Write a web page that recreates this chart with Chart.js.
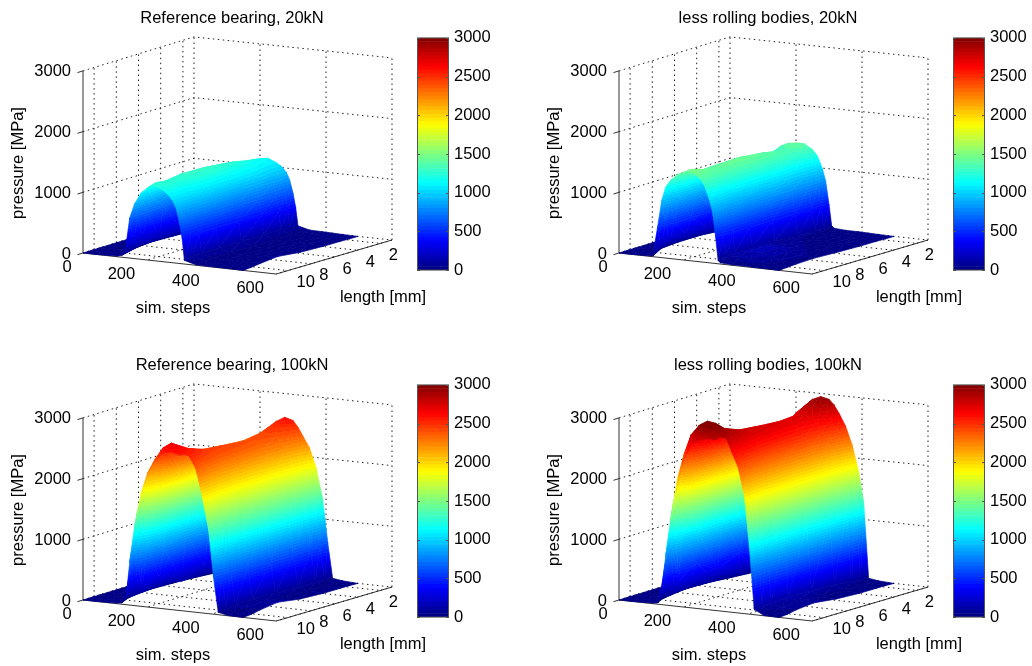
<!DOCTYPE html>
<html lang="en">

<head>
    <meta charset="UTF-8">
    <title>Bearing pressure</title>
    <script src="https://cdn.jsdelivr.net/npm/chart.js"></script>
    <style>
        body {
            margin: 0;
            background: #fff;
        }

        /* The original figure is a slightly soft bitmap */
        #page {
            position: relative;
            width: 1032px;
            height: 666px;
            overflow: hidden;
            filter: blur(0.35px);
        }

        canvas {
            position: absolute;
        }
    </style>
</head>

<body>
    <div id="page"></div>
    <script>
        // Mesh axes
        const simSteps20kN = [0, 40, 80, 105, 120, 133, 145, 160, 180, 200, 225, 250, 265, 280, 290, 300, 308, 315, 350, 390, 420, 450, 497];
        const simSteps100kN = [0, 40, 80, 105, 120, 133, 145, 160, 180, 200, 225, 250, 275, 300, 315, 330, 350, 370, 390, 405, 420, 450, 497];
        const lengths = [1, 1.7, 2.5, 4, 6, 8, 9.5, 10.3, 11];

        // Tick labels
        const simTicks = [0, 200, 400, 600];
        const lengthTicks = [2, 4, 6, 8, 10];
        const pressureTicks = [0, 1000, 2000, 3000];
        const colorbarMax = 3000;

        // Pressure [MPa], one row per length, one column per sim step
        const reference20kN = [
            [0, 0, 5, 10, 30, 170, 600, 830, 1000, 1100, 1130, 1070, 1020, 930, 810, 600, 370, 70, 20, 15, 10, 5, 0],
            [0, 0, 5, 15, 50, 170, 620, 850, 1030, 1130, 1160, 1100, 1040, 950, 840, 610, 380, 80, 25, 15, 10, 5, 0],
            [0, 0, 10, 20, 80, 180, 630, 860, 1050, 1140, 1180, 1120, 1060, 970, 850, 630, 390, 80, 25, 20, 15, 10, 5],
            [0, 5, 15, 40, 110, 190, 660, 910, 1100, 1200, 1240, 1180, 1120, 1020, 890, 660, 410, 90, 30, 20, 15, 10, 5],
            [0, 10, 25, 60, 140, 190, 680, 940, 1140, 1240, 1280, 1220, 1150, 1050, 920, 680, 420, 90, 35, 25, 20, 20, 20],
            [0, 10, 30, 70, 130, 190, 690, 940, 1150, 1250, 1290, 1230, 1160, 1060, 930, 680, 430, 90, 40, 30, 30, 35, 60],
            [0, 5, 20, 50, 90, 190, 670, 920, 1110, 1210, 1250, 1190, 1120, 1030, 900, 660, 410, 90, 30, 25, 25, 30, 30],
            [0, 5, 10, 25, 60, 190, 680, 930, 1130, 1230, 1270, 1210, 1140, 1040, 910, 670, 420, 90, 25, 20, 15, 15, 10],
            [0, 0, 5, 10, 30, 180, 660, 900, 1090, 1190, 1230, 1170, 1110, 1010, 890, 650, 410, 60, 10, 5, 5, 5, 0]
        ];
        const lessBodies20kN = [
            [0, 0, 5, 20, 470, 890, 1100, 1210, 1300, 1350, 1370, 1290, 1190, 990, 790, 410, 70, 30, 15, 15, 10, 5, 0],
            [0, 0, 5, 30, 480, 920, 1140, 1260, 1350, 1400, 1420, 1340, 1240, 1020, 820, 430, 70, 30, 20, 15, 10, 5, 0],
            [0, 0, 10, 50, 460, 870, 1070, 1190, 1270, 1320, 1340, 1270, 1170, 960, 780, 400, 70, 40, 20, 20, 15, 10, 5],
            [0, 5, 30, 170, 470, 900, 1110, 1230, 1320, 1370, 1390, 1310, 1210, 1000, 810, 420, 70, 50, 30, 25, 20, 15, 5],
            [0, 10, 60, 200, 490, 930, 1140, 1270, 1360, 1410, 1430, 1350, 1240, 1030, 830, 430, 90, 80, 70, 50, 35, 30, 15],
            [0, 10, 60, 210, 480, 920, 1140, 1260, 1350, 1400, 1420, 1340, 1240, 1020, 820, 430, 110, 120, 150, 140, 100, 60, 30],
            [0, 5, 40, 180, 480, 920, 1130, 1250, 1340, 1390, 1410, 1330, 1230, 1020, 820, 420, 100, 110, 150, 140, 90, 50, 20],
            [0, 5, 20, 90, 500, 960, 1180, 1300, 1400, 1450, 1470, 1390, 1280, 1060, 850, 440, 90, 80, 100, 90, 50, 30, 10],
            [0, 0, 5, 10, 500, 950, 1170, 1290, 1390, 1440, 1460, 1380, 1270, 1050, 850, 440, 50, 20, 10, 10, 5, 5, 0]
        ];
        const reference100kN = [
            [0, 0, 5, 10, 30, 120, 900, 1350, 1750, 2020, 2380, 2530, 2610, 2570, 2470, 2330, 2150, 1830, 1330, 630, 40, 15, 0],
            [0, 0, 5, 15, 50, 200, 940, 1440, 1850, 2130, 2350, 2470, 2500, 2450, 2380, 2270, 2060, 1750, 1270, 600, 50, 20, 5],
            [0, 0, 10, 20, 70, 90, 860, 1400, 1810, 2070, 2290, 2410, 2440, 2390, 2320, 2210, 2010, 1710, 1240, 590, 60, 20, 5],
            [0, 5, 15, 40, 110, 240, 760, 1380, 1780, 2040, 2260, 2370, 2400, 2350, 2280, 2170, 1970, 1680, 1220, 580, 60, 25, 5],
            [0, 10, 25, 60, 150, 110, 910, 1400, 1800, 2070, 2280, 2400, 2430, 2380, 2310, 2200, 2000, 1700, 1280, 580, 70, 30, 25],
            [0, 10, 30, 70, 140, 260, 780, 1420, 1830, 2100, 2320, 2440, 2470, 2420, 2350, 2240, 2030, 1730, 1300, 600, 90, 60, 80],
            [0, 5, 20, 50, 100, 130, 960, 1480, 1900, 2180, 2420, 2540, 2570, 2520, 2440, 2330, 2110, 1800, 1320, 620, 70, 50, 40],
            [0, 5, 10, 25, 250, 1000, 1500, 1800, 2130, 2400, 2600, 2690, 2660, 2550, 2500, 2420, 2240, 1900, 1350, 620, 50, 20, 10],
            [0, 0, 5, 10, 20, 80, 700, 1300, 1850, 2200, 2440, 2570, 2600, 2560, 2590, 2560, 2370, 1930, 1380, 620, 40, 5, 0]
        ];
        const lessBodies100kN = [
            [0, 0, 5, 10, 30, 590, 1240, 1650, 2050, 2420, 2760, 2890, 2950, 2920, 2840, 2710, 2510, 2210, 1780, 1290, 40, 15, 0],
            [0, 0, 5, 15, 50, 570, 1200, 1600, 2110, 2450, 2690, 2820, 2850, 2800, 2730, 2620, 2420, 2130, 1720, 1250, 50, 20, 5],
            [0, 0, 10, 20, 70, 350, 1150, 1530, 2030, 2360, 2590, 2710, 2740, 2690, 2620, 2520, 2330, 2050, 1650, 1200, 60, 20, 5],
            [0, 5, 15, 40, 120, 480, 950, 1520, 2010, 2340, 2570, 2690, 2720, 2670, 2600, 2500, 2310, 2040, 1640, 1190, 100, 25, 5],
            [0, 10, 25, 70, 160, 300, 1160, 1540, 2040, 2370, 2600, 2720, 2750, 2700, 2630, 2530, 2340, 2060, 1660, 1220, 120, 30, 25],
            [0, 10, 30, 80, 170, 520, 1000, 1560, 2060, 2400, 2640, 2760, 2790, 2740, 2670, 2570, 2370, 2090, 1690, 1200, 120, 80, 70],
            [0, 5, 20, 50, 110, 300, 1220, 1620, 2150, 2490, 2740, 2870, 2900, 2850, 2780, 2670, 2470, 2170, 1750, 1180, 110, 60, 40],
            [0, 5, 10, 25, 300, 1100, 1650, 2100, 2500, 2800, 2970, 3050, 3030, 2920, 2800, 2700, 2520, 2260, 1840, 1150, 100, 20, 10],
            [0, 0, 5, 10, 20, 300, 800, 1400, 2000, 2400, 2700, 2780, 2820, 2810, 2870, 2900, 2640, 2400, 1920, 1100, 90, 5, 0]
        ];

        const panelTitles = ['Reference bearing, 20kN', 'less rolling bodies, 20kN', 'Reference bearing, 100kN', 'less rolling bodies, 100kN'];
        const panelSurfaces = [reference20kN, lessBodies20kN, reference100kN, lessBodies100kN];
        const panelSimSteps = [simSteps20kN, simSteps20kN, simSteps100kN, simSteps100kN];

        const FONT = '16.5px "Liberation Sans", Arial, sans-serif';
        const TEXT_COLOR = '#000';
        const JET_LEVELS = 64;
        const PLOT_W = 440;
        const PLOT_H = 319;

        // Fixed 3D view of the axes box, same for all four panels
        function project(sim, length, pressure) {
            const depth = length - 1;
            return {
                x: 194 + sim * (0.33 - 0.0008 * depth) - 11.1 * depth,
                y: 219 + 0.035 * sim + 3.4 * depth - pressure * 0.0607,
                pressure: pressure,
                sim: sim,
                length: length
            };
        }

        function jet(level) {
            const t = (level + 0.5) / JET_LEVELS;
            const ramp = v => Math.max(0, Math.min(1, 1.5 - Math.abs(4 * t - v)));
            const r = Math.round(255 * ramp(3));
            const g = Math.round(255 * ramp(2));
            const b = Math.round(255 * ramp(1));
            return `rgb(${r},${g},${b})`;
        }

        function levelOf(pressure) {
            return Math.max(0, Math.min(JET_LEVELS - 1, Math.floor(pressure / colorbarMax * JET_LEVELS)));
        }

        // Banded gradient across one triangle: colour follows the pressure exactly
        function triangleStyle(ctx, a, b, c) {
            const det = (b.x - a.x) * (c.y - a.y) - (c.x - a.x) * (b.y - a.y);
            const lo = Math.min(a.p, b.p, c.p);
            const hi = Math.max(a.p, b.p, c.p);
            if (Math.abs(det) < 0.01 || levelOf(lo) === levelOf(hi)) {
                return jet(levelOf((lo + hi) / 2));
            }
            const gx = ((b.p - a.p) * (c.y - a.y) - (c.p - a.p) * (b.y - a.y)) / det;
            const gy = ((c.p - a.p) * (b.x - a.x) - (b.p - a.p) * (c.x - a.x)) / det;
            const g2 = gx * gx + gy * gy;
            const low = [a, b, c].find(v => v.p === lo);
            const span = hi - lo;
            const grad = ctx.createLinearGradient(low.x, low.y, low.x + gx * span / g2, low.y + gy * span / g2);
            const size = colorbarMax / JET_LEVELS;
            for (let level = levelOf(lo); level <= levelOf(hi); level++) {
                const from = Math.max(0, (level * size - lo) / span);
                const to = Math.min(1, ((level + 1) * size - lo) / span);
                grad.addColorStop(from, jet(level));
                grad.addColorStop(to, jet(level));
            }
            return grad;
        }

        // Paints the mesh held in the surface datasets, far quads first
        const surfacePlugin = {
            id: 'surface',
            afterDatasetsDraw(chart) {
                const ctx = chart.ctx;
                const xScale = chart.scales.x;
                const yScale = chart.scales.y;
                const rows = chart.data.datasets.filter(d => d.surfaceRow).map(d => d.data.map(pt => ({
                    x: xScale.getPixelForValue(pt.x),
                    y: yScale.getPixelForValue(pt.y),
                    p: pt.pressure,
                    depth: 111 * pt.sim / 600 + 198 * (pt.length - 1) / 10
                })));
                const quads = [];
                for (let i = 0; i < rows.length - 1; i++) {
                    for (let j = 0; j < rows[i].length - 1; j++) {
                        quads.push({ depth: rows[i][j].depth + rows[i + 1][j + 1].depth, i, j });
                    }
                }
                quads.sort((m, n) => m.depth - n.depth);
                ctx.save();
                ctx.lineJoin = 'round';
                ctx.lineWidth = 0.7;
                quads.forEach(({ i, j }) => {
                    const a = rows[i][j];
                    const b = rows[i][j + 1];
                    const c = rows[i + 1][j + 1];
                    const d = rows[i + 1][j];
                    [[a, b, c], [a, c, d]].forEach(tri => {
                        const style = triangleStyle(ctx, tri[0], tri[1], tri[2]);
                        ctx.fillStyle = style;
                        ctx.strokeStyle = style;
                        ctx.beginPath();
                        ctx.moveTo(tri[0].x, tri[0].y);
                        ctx.lineTo(tri[1].x, tri[1].y);
                        ctx.lineTo(tri[2].x, tri[2].y);
                        ctx.closePath();
                        ctx.fill();
                        ctx.stroke();
                    });
                });
                ctx.restore();
            }
        };

        // Title, axis titles and the tick labels of the 3D box
        const labelsPlugin = {
            id: 'boxLabels',
            afterDraw(chart) {
                const ctx = chart.ctx;
                const xScale = chart.scales.x;
                const yScale = chart.scales.y;
                const at = pt => [xScale.getPixelForValue(pt.x), yScale.getPixelForValue(pt.y)];
                ctx.save();
                ctx.font = FONT;
                ctx.fillStyle = TEXT_COLOR;
                ctx.textBaseline = 'middle';

                ctx.textAlign = 'right';
                pressureTicks.forEach(p => {
                    const [x, y] = at(project(0, 11, p));
                    ctx.fillText(String(p), x - 12, y + 1);
                });

                ctx.textAlign = 'center';
                simTicks.forEach(s => {
                    const [x, y] = at(project(s, 11, 0));
                    ctx.fillText(String(s), x + (s === 0 ? -16 : -26), y + 14);
                });
                lengthTicks.forEach(l => {
                    const [x, y] = at(project(600, l, 0));
                    ctx.fillText(String(l), x + (l === 10 ? 18 : 13), y + 12);
                });

                ctx.fillText(chart.options.plugins.boxLabels.title, 232, 18);
                ctx.fillText('sim. steps', 173, 308);
                ctx.fillText('length [mm]', 383, 297);
                ctx.translate(18, 163);
                ctx.rotate(-Math.PI / 2);
                ctx.fillText('pressure [MPa]', 0, 0);
                ctx.restore();
            }
        };

        function dottedLine(points) {
            return {
                data: points,
                showLine: true,
                pointRadius: 0,
                borderColor: '#222',
                borderWidth: 1,
                borderDash: [1.5, 3.5]
            };
        }

        function solidLine(points) {
            return {
                data: points,
                showLine: true,
                pointRadius: 0,
                borderColor: '#333',
                borderWidth: 1
            };
        }

        function boxDatasets() {
            const sets = [];
            simTicks.forEach(s => {
                sets.push(dottedLine([project(s, 1, 0), project(s, 1, 3000)]));
                sets.push(dottedLine([project(s, 1, 0), project(s, 11, 0)]));
            });
            lengthTicks.forEach(l => {
                sets.push(dottedLine([project(0, l, 0), project(0, l, 3000)]));
                sets.push(dottedLine([project(0, l, 0), project(600, l, 0)]));
            });
            pressureTicks.forEach(p => {
                sets.push(dottedLine([project(0, 11, p), project(0, 1, p), project(600, 1, p)]));
                sets.push(solidLine([project(0, 11, p), project(0, 11.5, p)]));
            });
            // Solid axes
            sets.push(solidLine([project(0, 11, 0), project(0, 11, 3000)]));
            sets.push(solidLine([project(0, 11, 0), project(600, 11, 0)]));
            sets.push(solidLine([project(600, 11, 0), project(600, 1, 0)]));
            return sets;
        }

        function surfaceDatasets(table, steps) {
            return table.map((row, i) => ({
                surfaceRow: true,
                data: row.map((p, j) => project(steps[j], lengths[i], p)),
                showLine: false,
                pointRadius: 0
            }));
        }

        function addCanvas(left, top, width, height) {
            const canvas = document.createElement('canvas');
            canvas.width = width;
            canvas.height = height;
            canvas.style.left = left + 'px';
            canvas.style.top = top + 'px';
            canvas.style.width = width + 'px';
            canvas.style.height = height + 'px';
            document.getElementById('page').appendChild(canvas);
            return canvas;
        }

        function drawPlot(left, top, title, table, steps) {
            new Chart(addCanvas(left, top, PLOT_W, PLOT_H), {
                type: 'scatter',
                data: { datasets: boxDatasets().concat(surfaceDatasets(table, steps)) },
                options: {
                    responsive: false,
                    animation: false,
                    layout: { padding: 0 },
                    plugins: {
                        legend: { display: false },
                        tooltip: { enabled: false },
                        boxLabels: { title: title }
                    },
                    scales: {
                        x: { type: 'linear', min: 0, max: PLOT_W, display: false },
                        y: { type: 'linear', min: 0, max: PLOT_H, reverse: true, display: false }
                    }
                },
                plugins: [surfacePlugin, labelsPlugin]
            });
        }

        // Frame and inward ticks of the colorbar
        const framePlugin = {
            id: 'barFrame',
            afterDraw(chart) {
                const ctx = chart.ctx;
                const area = chart.chartArea;
                ctx.save();
                ctx.strokeStyle = '#555';
                ctx.lineWidth = 1;
                ctx.strokeRect(area.left + 0.5, area.top, area.right - area.left - 1, area.bottom - area.top);
                chart.scales.y.ticks.forEach(t => {
                    const y = Math.round(chart.scales.y.getPixelForValue(t.value)) + 0.5;
                    ctx.beginPath();
                    ctx.moveTo(area.left, y);
                    ctx.lineTo(area.left + 3, y);
                    ctx.moveTo(area.right, y);
                    ctx.lineTo(area.right - 3, y);
                    ctx.stroke();
                });
                ctx.restore();
            }
        };

        function drawColorbar(left, top) {
            const cells = [];
            for (let level = 0; level < JET_LEVELS; level++) {
                cells.push({
                    data: [colorbarMax / JET_LEVELS],
                    backgroundColor: jet(level),
                    barPercentage: 1,
                    categoryPercentage: 1
                });
            }
            new Chart(addCanvas(left, top, 84, 262), {
                type: 'bar',
                data: { labels: [''], datasets: cells },
                options: {
                    responsive: false,
                    animation: false,
                    layout: { padding: { top: 12, bottom: 12 } },
                    plugins: {
                        legend: { display: false },
                        tooltip: { enabled: false }
                    },
                    scales: {
                        x: { stacked: true, display: false },
                        y: {
                            stacked: true,
                            position: 'right',
                            min: 0,
                            max: colorbarMax,
                            afterFit(scale) {
                                scale.width = 52;
                            },
                            grid: { display: false, drawTicks: false },
                            border: { display: false },
                            ticks: {
                                stepSize: 500,
                                padding: 5,
                                color: TEXT_COLOR,
                                font: { family: '"Liberation Sans", Arial, sans-serif', size: 16.5 },
                                callback: v => String(v)
                            }
                        }
                    }
                },
                plugins: [framePlugin]
            });
        }

        const panelLeft = [0, 536, 0, 536];
        const panelTop = [0, 0, 347, 347];
        panelTitles.forEach((title, n) => {
            drawPlot(panelLeft[n], panelTop[n], title, panelSurfaces[n], panelSimSteps[n]);
            drawColorbar(panelLeft[n] + 417, panelTop[n] + 23);
        });
    </script>
</body>

</html>
